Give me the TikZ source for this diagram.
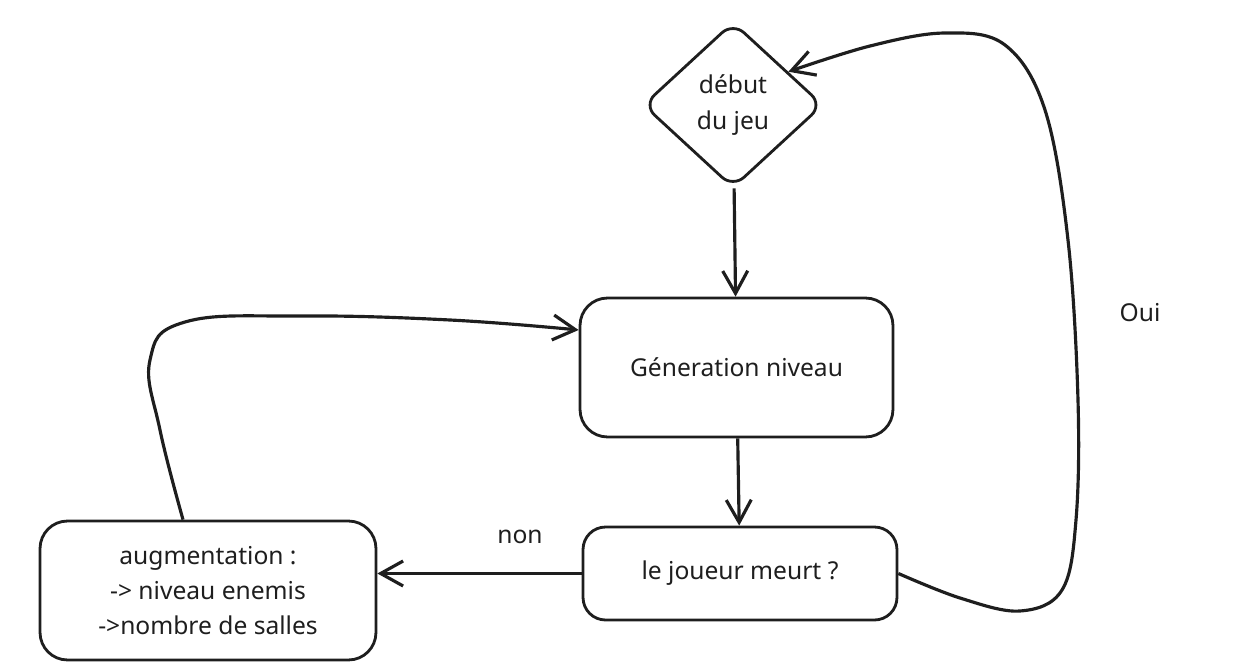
\documentclass[tikz,border=0pt]{standalone}
\usepackage{fontspec}
\setmainfont{Noto Sans}
\usetikzlibrary{shapes.geometric,arrows.meta}
\definecolor{ink}{HTML}{1E1E1E}
\begin{document}
\begin{tikzpicture}[x=0.02cm, y=-0.02cm, ink, font=\fontsize{14}{20}\selectfont,
    box/.style={draw=ink, line width=1.6pt, rounded corners=0.55cm, align=center, inner sep=0pt},
    flow/.style={draw=ink, line width=1.8pt, -{Straight Barb[length=0.45cm, width=0.5cm, line width=1.8pt]}}]
    \useasboundingbox (0,0) rectangle (1242,669);
    % les etapes
    \node[draw=ink, diamond, line width=1.6pt, rounded corners=0.3cm, minimum width=3.6cm, minimum height=3.32cm, inner sep=0pt, align=center] (start) at (733,105) {début\\du jeu};
    \node[box, minimum width=6.26cm, minimum height=2.78cm] (gen) at (736.5,367.5) {Géneration niveau};
    \node[box, rounded corners=0.45cm, minimum width=6.28cm, minimum height=1.86cm] (meurt) at (740,573.5) {le joueur meurt ?};
    \node[box, minimum width=6.72cm, minimum height=2.78cm] (aug) at (208,590.5) {augmentation :\\-> niveau enemis\\->nombre de salles};
    \node (non) at (520,537) {non};
    \node (oui) at (1140,313) {Oui};
    % les fleches
    \draw[flow] (start) -- (gen);
    \draw[flow] (gen) -- (meurt);
    \draw[flow] (meurt.west) -- (meurt.west -| aug.east);
    \draw[flow] plot[smooth, tension=0.7] coordinates {([xshift=-0.5cm]aug.north) (160,430) (150,360) (185,322) (300,316) (450,320) ([yshift=0.75cm]gen.west)};
    \draw[flow] plot[smooth, tension=0.6] coordinates {(meurt.east) (960,598) (1020,611) (1062,590) (1076,520) (1078,400) (1068,240) (1045,110) (1005,45) (945,33) (870,46) (start.31)};
\end{tikzpicture}
\end{document}
